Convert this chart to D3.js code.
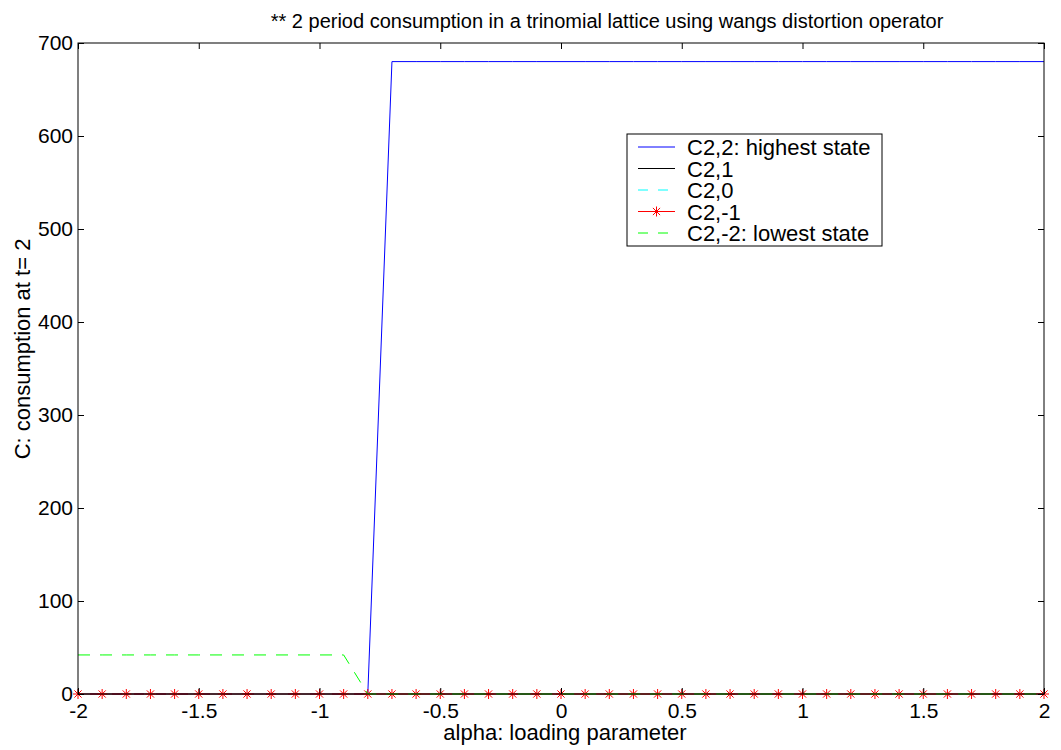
<!DOCTYPE html>
<html>
<head>
<meta charset="utf-8">
<script src="https://cdn.jsdelivr.net/npm/d3@7"></script>
<style>
  body { margin: 0; background: #fff; }
  svg { font-family: "Liberation Sans", Arial, sans-serif; }
</style>
</head>
<body>
<svg id="chart" width="1061" height="750"></svg>
<script>
// alpha grid: -2 .. 2 in steps of 0.1 (41 points)
var alpha = [-2.0, -1.9, -1.8, -1.7, -1.6, -1.5, -1.4, -1.3, -1.2, -1.1,
             -1.0, -0.9, -0.8, -0.7, -0.6, -0.5, -0.4, -0.3, -0.2, -0.1,
              0.0,  0.1,  0.2,  0.3,  0.4,  0.5,  0.6,  0.7,  0.8,  0.9,
              1.0,  1.1,  1.2,  1.3,  1.4,  1.5,  1.6,  1.7,  1.8,  1.9, 2.0];

// C2,2 highest state
var c22 = [0, 0, 0, 0, 0, 0, 0, 0, 0, 0,
           0, 0, 0, 680, 680, 680, 680, 680, 680, 680,
           680, 680, 680, 680, 680, 680, 680, 680, 680, 680,
           680, 680, 680, 680, 680, 680, 680, 680, 680, 680, 680];
var c21 = alpha.map(function () { return 0; });
var c20 = alpha.map(function () { return 0; });
var c2m1 = alpha.map(function () { return 0; });
// C2,-2 lowest state
var c2m2 = [42, 42, 42, 42, 42, 42, 42, 42, 42, 42,
            42, 42, 0, 0, 0, 0, 0, 0, 0, 0,
            0, 0, 0, 0, 0, 0, 0, 0, 0, 0,
            0, 0, 0, 0, 0, 0, 0, 0, 0, 0, 0];

var xTicks = [-2, -1.5, -1, -0.5, 0, 0.5, 1, 1.5, 2];
var yTicks = [0, 100, 200, 300, 400, 500, 600, 700];

var seriesNames = ['C2,2: highest state', 'C2,1', 'C2,0', 'C2,-1', 'C2,-2: lowest state'];
var seriesValues = [c22, c21, c20, c2m1, c2m2];

var styles = [
  { color: '#0000ff', dash: null, marker: false },
  { color: '#000000', dash: null, marker: false },
  { color: '#00ffff', dash: '12,10', marker: false },
  { color: '#ff0000', dash: null, marker: true },
  { color: '#00ff00', dash: '12,10', marker: false }
];

var svg = d3.select('#chart');
var mLeft = 78, mRight = 1044, mTop = 43, mBottom = 694;

var x = d3.scaleLinear().domain([-2, 2]).range([mLeft, mRight]);
var y = d3.scaleLinear().domain([0, 700]).range([mBottom, mTop]);

var plot = svg.append('g');

var line = d3.line()
  .x(function (d) { return x(d[0]); })
  .y(function (d) { return y(d[1]); });

var star = 'M-5,0H5M0,-5V5M-3.6,-3.6L3.6,3.6M-3.6,3.6L3.6,-3.6';

seriesValues.forEach(function (vals, i) {
  var pts = alpha.map(function (a, j) { return [a, vals[j]]; });
  var st = styles[i];
  plot.append('path')
    .attr('d', line(pts))
    .attr('fill', 'none')
    .attr('stroke', st.color)
    .attr('stroke-width', 1)
    .attr('stroke-dasharray', st.dash);
  if (st.marker) {
    plot.selectAll('.mk' + i).data(pts).enter()
      .append('path')
      .attr('transform', function (d) { return 'translate(' + x(d[0]) + ',' + y(d[1]) + ')'; })
      .attr('d', star)
      .attr('stroke', st.color)
      .attr('stroke-width', 1);
  }
});

// axes box, ticks pointing inward on all four sides
var tl = 6;
var fmt = function (d) { return String(d); };
var axB = d3.axisBottom(x).tickValues(xTicks).tickSizeInner(-tl).tickSizeOuter(0).tickFormat(fmt);
var axT = d3.axisTop(x).tickValues(xTicks).tickSizeInner(-tl).tickSizeOuter(0).tickFormat('');
var axL = d3.axisLeft(y).tickValues(yTicks).tickSizeInner(-tl).tickSizeOuter(0).tickFormat(fmt);
var axR = d3.axisRight(y).tickValues(yTicks).tickSizeInner(-tl).tickSizeOuter(0).tickFormat('');

function styleAxis(g) {
  g.attr('font-size', null).attr('font-family', null);
  g.select('.domain').remove();
  g.selectAll('line').attr('stroke', '#000');
  g.selectAll('text').attr('fill', '#000').attr('font-size', 21);
}

var gB = svg.append('g').attr('transform', 'translate(0,' + mBottom + ')').call(axB).call(styleAxis);
gB.selectAll('text').attr('y', 8).attr('dy', '0.75em');
svg.append('g').attr('transform', 'translate(0,' + mTop + ')').call(axT).call(styleAxis);
var gL = svg.append('g').attr('transform', 'translate(' + mLeft + ',0)').call(axL).call(styleAxis);
gL.selectAll('text').attr('x', -5);
svg.append('g').attr('transform', 'translate(' + mRight + ',0)').call(axR).call(styleAxis);

svg.append('rect')
  .attr('x', mLeft).attr('y', mTop)
  .attr('width', mRight - mLeft).attr('height', mBottom - mTop)
  .attr('fill', 'none').attr('stroke', '#000').attr('stroke-width', 1);

// labels
svg.append('text')
  .attr('x', 607).attr('y', 28)
  .attr('text-anchor', 'middle').attr('font-size', 20)
  .text('** 2 period consumption in a trinomial lattice using wangs distortion operator');

svg.append('text')
  .attr('x', 565).attr('y', 740)
  .attr('text-anchor', 'middle').attr('font-size', 22)
  .text('alpha: loading parameter');

svg.append('text')
  .attr('transform', 'translate(30,349) rotate(-90)')
  .attr('text-anchor', 'middle').attr('font-size', 22)
  .text('C: consumption at t= 2');

// legend
var lg = svg.append('g').attr('transform', 'translate(627,134)');
lg.append('rect').attr('width', 255).attr('height', 112)
  .attr('fill', '#fff').attr('stroke', '#000').attr('stroke-width', 1);
seriesNames.forEach(function (name, i) {
  var yy = 13 + i * 21.5;
  var st = styles[i];
  lg.append('line')
    .attr('x1', 11).attr('x2', 48).attr('y1', yy).attr('y2', yy)
    .attr('stroke', st.color).attr('stroke-dasharray', st.dash ? '10,10' : null);
  if (st.marker) {
    lg.append('path')
      .attr('transform', 'translate(29.5,' + yy + ')')
      .attr('d', star)
      .attr('stroke', st.color);
  }
  lg.append('text')
    .attr('x', 60).attr('y', yy + 8)
    .attr('font-size', 22)
    .text(name);
});
</script>
</body>
</html>
